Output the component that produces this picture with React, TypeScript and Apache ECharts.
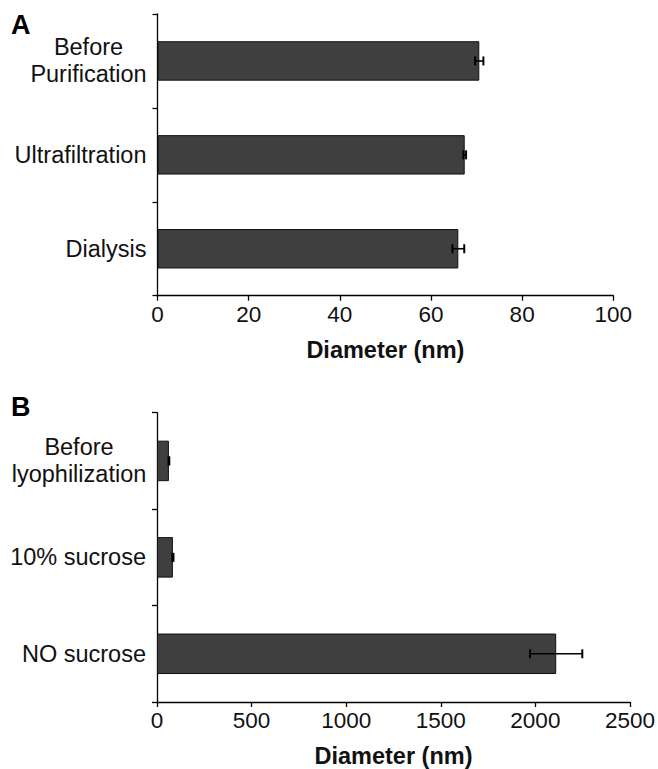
import React, { useEffect, useRef } from "react";
import * as echarts from "echarts";

const catsA = ["Before\nPurification", "Ultrafiltration", "Dialysis"];
const valsA = [70.6, 67.4, 66.0];
const errA = [0.9, 0.3, 1.3];

const catsB = ["Before\nlyophilization", "10% sucrose", "NO sucrose"];
const valsB = [63, 84, 2110];
const errB = [2, 3, 138];

const FONT = "'Liberation Sans', Arial, Helvetica, sans-serif";

function errData(vals: number[], errs: number[]) {
  return vals.map((v, i) => [v - errs[i], v + errs[i], i]);
}

function renderErr(params: any, api: any) {
  const idx = api.value(2);
  const lo = api.coord([api.value(0), idx]);
  const hi = api.coord([api.value(1), idx]);
  const h = 4.5;
  const st = { stroke: "#000", lineWidth: 1.6 };
  return {
    type: "group",
    children: [
      { type: "line", shape: { x1: lo[0], y1: lo[1], x2: hi[0], y2: hi[1] }, style: st },
      { type: "line", shape: { x1: lo[0], y1: lo[1] - h, x2: lo[0], y2: lo[1] + h }, style: { stroke: "#000", lineWidth: 2 } },
      { type: "line", shape: { x1: hi[0], y1: hi[1] - h, x2: hi[0], y2: hi[1] + h }, style: { stroke: "#000", lineWidth: 2 } },
    ],
  };
}

function catAxis(cats: string[], gridIndex: number, w: number) {
  return {
    type: "category",
    gridIndex,
    data: cats,
    inverse: true,
    axisLine: { show: true, lineStyle: { color: "#000", width: 1.3 } },
    axisTick: { show: true, length: 5, lineStyle: { color: "#000", width: 1.3 } },
    axisLabel: {
      margin: 11,
      color: "#111",
      fontFamily: FONT,
      fontSize: 23.5,
      lineHeight: 27,
      formatter: (v: string) =>
        v.includes("\n") ? v.split("\n").map((s) => `{c|${s}}`).join("\n") : v,
      rich: {
        c: { width: w, align: "center", fontFamily: FONT, fontSize: 23.5, lineHeight: 27, color: "#111" },
      },
    },
    splitLine: { show: false },
  };
}

function valAxis(gridIndex: number, max: number, interval: number) {
  return {
    type: "value",
    gridIndex,
    min: 0,
    max,
    interval,
    name: "Diameter (nm)",
    nameLocation: "middle",
    nameGap: 42,
    nameTextStyle: { fontFamily: FONT, fontSize: 23.5, fontWeight: "bold", color: "#111" },
    axisLine: { show: true, lineStyle: { color: "#000", width: 1.3 } },
    axisTick: { show: true, length: 5, lineStyle: { color: "#000", width: 1.3 } },
    axisLabel: { margin: 7, color: "#111", fontFamily: FONT, fontSize: 22.5, formatter: (v: number) => String(v) },
    splitLine: { show: false },
  };
}

const barStyle = { color: "#3f3f3f", borderColor: "#111", borderWidth: 1 };

export default function App() {
  const ref = useRef<HTMLDivElement>(null);
  useEffect(() => {
    document.body.style.margin = "0";
    const chart = echarts.init(ref.current!, null, { renderer: "svg" });
    chart.setOption({
      animation: false,
      backgroundColor: "#fff",
      graphic: [
        { type: "text", left: 11, top: 11, style: { text: "A", fontFamily: FONT, fontSize: 27, fontWeight: "bold", fill: "#000" } },
        { type: "text", left: 11, top: 393, style: { text: "B", fontFamily: FONT, fontSize: 27, fontWeight: "bold", fill: "#000" } },
      ],
      grid: [
        { left: 157.5, right: 44.7, top: 14, height: 281.7 },
        { left: 157, right: 27.3, top: 412.7, height: 290 },
      ],
      xAxis: [valAxis(0, 100, 20), valAxis(1, 2500, 500)],
      yAxis: [catAxis(catsA, 0, 116), catAxis(catsB, 1, 134)],
      series: [
        { type: "bar", xAxisIndex: 0, yAxisIndex: 0, data: valsA, barWidth: "42%", itemStyle: barStyle },
        { type: "bar", xAxisIndex: 1, yAxisIndex: 1, data: valsB, barWidth: "42%", itemStyle: barStyle },
        {
          type: "custom", xAxisIndex: 0, yAxisIndex: 0, renderItem: renderErr,
          data: errData(valsA, errA), encode: { x: [0, 1], y: 2 }, z: 10,
        },
        {
          type: "custom", xAxisIndex: 1, yAxisIndex: 1, renderItem: renderErr,
          data: errData(valsB, errB), encode: { x: [0, 1], y: 2 }, z: 10,
        },
      ],
    });
    return () => chart.dispose();
  }, []);
  return <div ref={ref} style={{ width: 658, height: 769 }} />;
}
